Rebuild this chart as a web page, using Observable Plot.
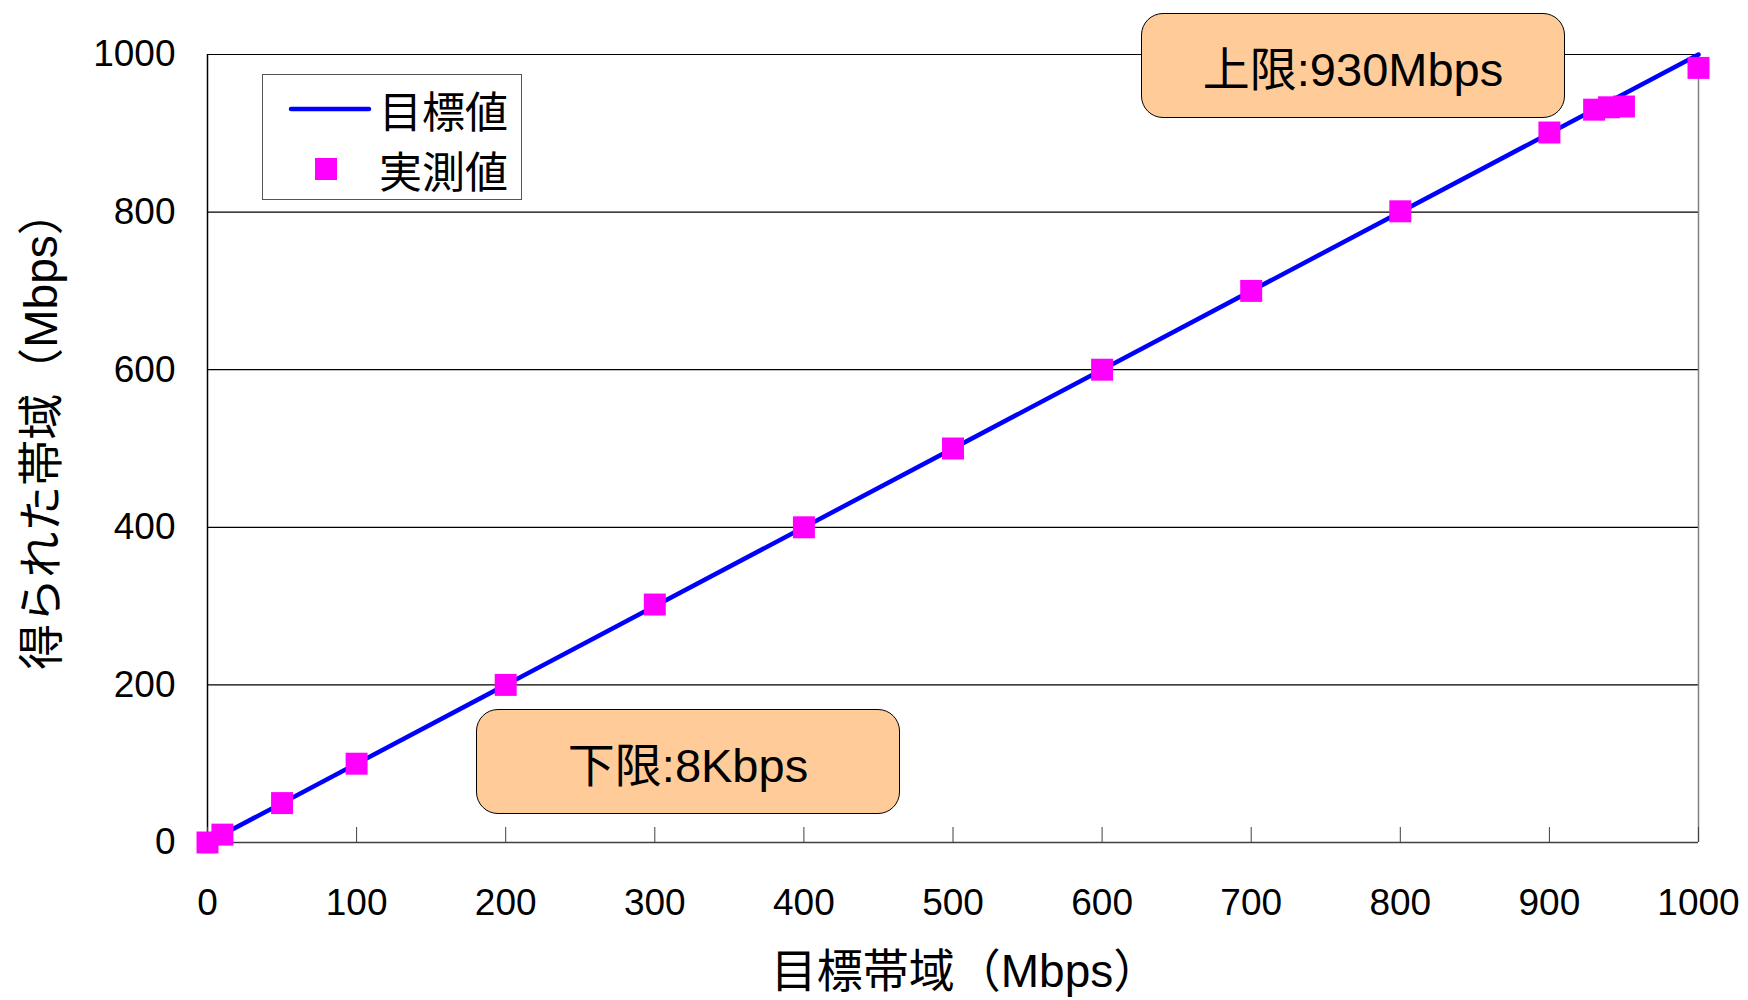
<!DOCTYPE html>
<html lang="ja">
<head>
<meta charset="utf-8">
<script src="https://cdn.jsdelivr.net/npm/d3@7"></script>
<script src="https://cdn.jsdelivr.net/npm/@observablehq/plot@0.6"></script>
<style>
  html, body { margin: 0; padding: 0; background: #fff; }
  #wrap { position: relative; width: 1748px; height: 1000px; font-family: "Liberation Sans", "Noto Sans CJK JP", sans-serif; color: #000; }
  #wrap svg { position: absolute; left: 0; top: 0; }
  .legend { position: absolute; left: 262px; top: 74px; width: 260px; height: 126px; border: 1.5px solid #555; background: #fff; box-sizing: border-box; }
  .legend .row { position: absolute; left: 0; height: 50px; display: flex; align-items: center; font-size: 43px; }
  .legend .row span { position: absolute; left: 116px; white-space: nowrap; }
  .note { position: absolute; background: #FFCC99; border: 1.5px solid #000; border-radius: 22px; box-sizing: border-box; display: flex; align-items: center; justify-content: center; font-size: 47px; white-space: nowrap; }
</style>
</head>
<body>
<div id="wrap"></div>
<script>
// Target bandwidth (Mbps) vs. bandwidth actually obtained (Mbps)
const targetLineX = [0, 1000];
const targetLineY = [0, 1000];

const measuredTarget   = [0.008, 10, 50, 100, 200, 300, 400, 500, 600, 700, 800, 900, 930, 940, 950, 1000];
const measuredObtained = [0.008, 10, 50, 100, 200, 302, 400, 500, 600, 700, 801, 901, 930, 933, 934, 983];

const xTicks = [0, 100, 200, 300, 400, 500, 600, 700, 800, 900, 1000];
const yTicks = [0, 200, 400, 600, 800, 1000];
const gridValues = [200, 400, 600, 800, 1000];

const legendLabels = ["目標値", "実測値"];
const upperLimitText = "上限:930Mbps";
const lowerLimitText = "下限:8Kbps";
const xTitle = "目標帯域（Mbps）";
const yTitle = "得られた帯域（Mbps）";

const lineData = targetLineX.map((x, i) => ({x, y: targetLineY[i]}));
const pointData = measuredTarget.map((x, i) => ({x, y: measuredObtained[i]}));

const font = "Liberation Sans, Noto Sans CJK JP, sans-serif";
const intFormat = d3.format("d");

const chart = Plot.plot({
  width: 1748,
  height: 1000,
  marginLeft: 207,
  marginRight: 50,
  marginTop: 54,
  marginBottom: 158,
  style: {fontFamily: font, background: "transparent", color: "#000"},
  x: {domain: [0, 1000]},
  y: {domain: [0, 1000]},
  marks: [
    Plot.gridY(gridValues, {stroke: "#000", strokeOpacity: 1, strokeWidth: 1.2}),
    Plot.ruleX([0], {stroke: "#000", strokeWidth: 1.5}),
    Plot.ruleX([1000], {stroke: "#808080", strokeWidth: 1.5}),
    Plot.ruleY([0], {stroke: "#404040", strokeWidth: 1.5}),
    Plot.axisX({ticks: xTicks, tickFormat: intFormat, tickSize: -15, tickPadding: 61, fontSize: 37, stroke: "#404040", label: null}),
    Plot.axisY({ticks: yTicks, tickFormat: intFormat, tickSize: 0, tickPadding: 32, fontSize: 37, label: null}),
    Plot.line(lineData, {x: "x", y: "y", stroke: "#0000ff", strokeWidth: 4.5}),
    Plot.dot(pointData, {x: "x", y: "y", symbol: "square", r: 12.4, fill: "#ff00ff", stroke: null}),
    Plot.text([xTitle], {frameAnchor: "bottom", dx: 12, dy: 144, fontSize: 46, fill: "#000"}),
    Plot.text([yTitle], {frameAnchor: "left", textAnchor: "middle", dx: -165, dy: -19, rotate: -90, fontSize: 46, fill: "#000"})
  ]
});

const wrap = document.getElementById("wrap");
wrap.appendChild(chart);

// Legend
const legend = document.createElement("div");
legend.className = "legend";
legend.innerHTML = `
  <div class="row" style="top:9px;width:100%">
    <svg width="110" height="50" style="position:absolute;left:0;top:0"><line x1="28" y1="25" x2="106" y2="25" stroke="#0000ff" stroke-width="4.5" stroke-linecap="round"/></svg>
    <span>${legendLabels[0]}</span>
  </div>
  <div class="row" style="top:69px;width:100%">
    <svg width="110" height="50" style="position:absolute;left:0;top:0"><rect x="52" y="14" width="22" height="22" fill="#ff00ff"/></svg>
    <span>${legendLabels[1]}</span>
  </div>`;
wrap.appendChild(legend);

// Callout boxes
function note(text, left, top, w, h) {
  const d = document.createElement("div");
  d.className = "note";
  d.style.left = left + "px";
  d.style.top = top + "px";
  d.style.width = w + "px";
  d.style.height = h + "px";
  d.textContent = text;
  wrap.appendChild(d);
}
note(upperLimitText, 1141, 13, 424, 105);
note(lowerLimitText, 476, 709, 424, 105);
</script>
</body>
</html>
